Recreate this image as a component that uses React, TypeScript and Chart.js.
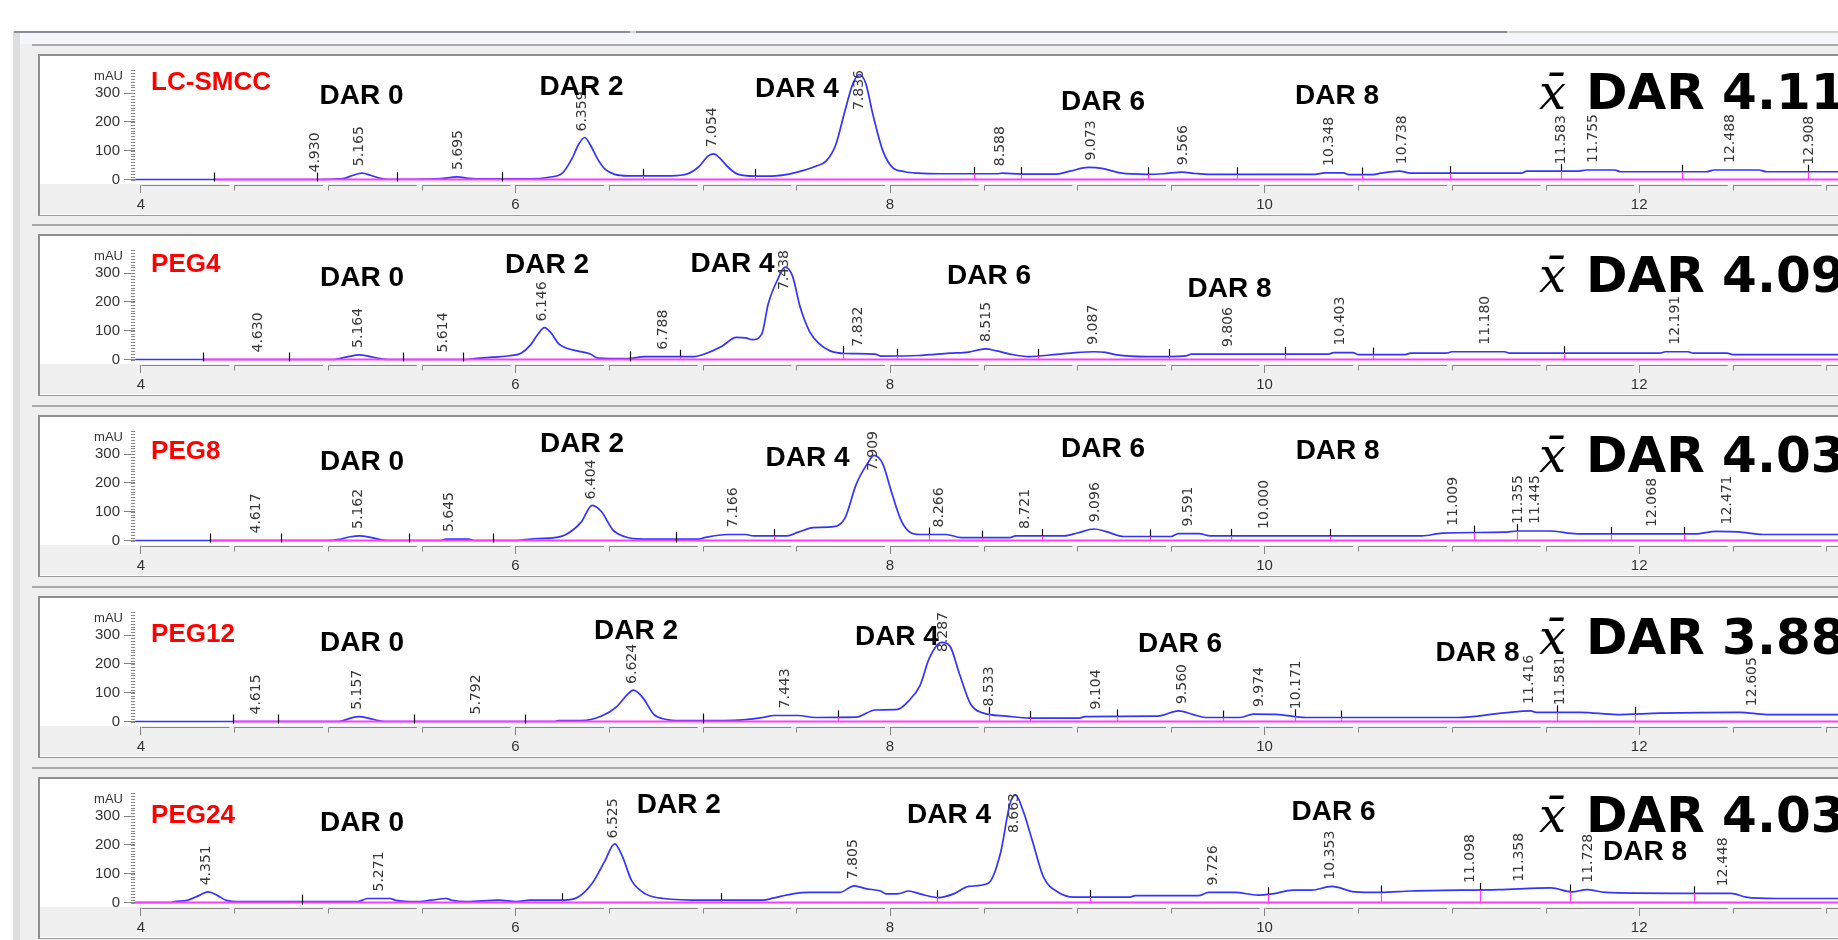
import React, { useEffect, useRef } from 'react';
import { Chart, registerables } from 'chart.js';

Chart.register(...registerables);

type Pt = [number, number];

// ---------------- data ----------------
const PANEL_NAMES = ['LC-SMCC', 'PEG4', 'PEG8', 'PEG12', 'PEG24'];
const AVG_DAR = ['4.11', '4.09', '4.03', '3.88', '4.03'];
const DAR_TEXT = ['DAR 0', 'DAR 2', 'DAR 4', 'DAR 6', 'DAR 8'];
const X_TICKS = [4, 6, 8, 10, 12];
const Y_TICKS = [0, 100, 200, 300];

const TRACE_LCSMCC: Pt[] = [
  [3.97, 0], [4.39, 0], [4.95, 0], [5.01, 1], [5.08, 3], [5.13, 14], [5.18, 22], [5.23, 14], [5.28, 4], [5.32, 1],
  [5.45, 1], [5.6, 3], [5.69, 9], [5.75, 4], [5.85, 2], [6.08, 2], [6.18, 8], [6.25, 22], [6.3, 70], [6.34, 125],
  [6.37, 146], [6.4, 120], [6.44, 70], [6.48, 35], [6.53, 18], [6.6, 13], [6.83, 13], [6.92, 20], [6.98, 45],
  [7.03, 82], [7.06, 89], [7.09, 75], [7.14, 40], [7.19, 18], [7.28, 12], [7.39, 13], [7.5, 25], [7.6, 45],
  [7.66, 65], [7.71, 120], [7.76, 240], [7.8, 330], [7.835, 365], [7.87, 335], [7.91, 222], [7.96, 103],
  [8.01, 44], [8.08, 27], [8.15, 22], [8.27, 20], [8.57, 20], [8.6, 22], [8.7, 19], [8.89, 19], [8.96, 29],
  [9.06, 42], [9.13, 39], [9.23, 23], [9.37, 18], [9.46, 20], [9.56, 26], [9.63, 21], [9.7, 18], [10.27, 18],
  [10.32, 23], [10.42, 23], [10.45, 17], [10.58, 17], [10.62, 22], [10.72, 29], [10.78, 22], [11.37, 22],
  [11.4, 29], [11.67, 29], [11.72, 33], [11.87, 33], [11.9, 27], [12.36, 27], [12.4, 33], [12.64, 33],
  [12.68, 27], [13.07, 27],
];
const TRACE_PEG4: Pt[] = [
  [3.97, 0], [4.33, 0], [5.03, 0], [5.06, 3], [5.12, 12], [5.165, 16], [5.22, 11], [5.28, 3], [5.32, 0],
  [5.72, 0], [5.78, 3], [5.88, 8], [5.97, 13], [6.03, 22], [6.08, 50], [6.12, 88], [6.155, 111], [6.19, 93],
  [6.23, 55], [6.27, 40], [6.33, 30], [6.4, 19], [6.44, 5], [6.6, 3], [6.69, 10], [6.95, 10], [7.01, 19],
  [7.1, 45], [7.18, 77], [7.23, 75], [7.265, 69], [7.315, 88], [7.35, 194], [7.4, 278], [7.44, 321],
  [7.48, 289], [7.52, 183], [7.57, 98], [7.62, 56], [7.68, 30], [7.76, 21], [7.92, 19], [7.95, 12], [8.15, 14],
  [8.32, 22], [8.42, 26], [8.51, 37], [8.57, 30], [8.64, 19], [8.74, 10], [8.89, 18], [8.99, 24], [9.09, 27],
  [9.15, 25], [9.21, 16], [9.37, 10], [9.58, 13], [9.61, 19], [10.34, 19], [10.37, 24], [10.47, 24],
  [10.5, 17], [10.75, 17], [10.78, 22], [10.97, 22], [11.0, 27], [11.28, 27], [11.31, 22], [12.11, 22],
  [12.14, 27], [12.26, 27], [12.29, 22], [12.47, 22], [12.5, 17], [13.07, 17],
];
const TRACE_PEG8: Pt[] = [
  [3.97, 0], [5.0, 0], [5.05, 3], [5.12, 13], [5.165, 16], [5.22, 12], [5.28, 3], [5.32, 0], [5.6, 0],
  [5.63, 5], [5.75, 5], [5.78, 0], [6.0, 0], [6.05, 3], [6.12, 7], [6.21, 10], [6.27, 21], [6.35, 63],
  [6.41, 122], [6.46, 100], [6.52, 37], [6.585, 13], [6.68, 5], [6.98, 5], [7.01, 10], [7.13, 21], [7.23, 21],
  [7.27, 16], [7.45, 16], [7.51, 29], [7.59, 45], [7.7, 48], [7.76, 79], [7.82, 196], [7.88, 268],
  [7.915, 296], [7.96, 268], [8.01, 164], [8.06, 69], [8.1, 32], [8.16, 21], [8.3, 21], [8.38, 10],
  [8.64, 10], [8.67, 16], [8.93, 16], [9.0, 26], [9.09, 40], [9.15, 32], [9.25, 14], [9.5, 14], [9.54, 24],
  [9.65, 24], [9.71, 16], [10.84, 16], [10.95, 26], [11.28, 29], [11.35, 33], [11.52, 33], [11.67, 23],
  [12.3, 23], [12.41, 32], [12.53, 30], [12.66, 21], [13.07, 21],
];
const TRACE_PEG12: Pt[] = [
  [3.97, 0], [5.05, 0], [5.08, 3], [5.12, 12], [5.165, 17], [5.22, 11], [5.27, 3], [5.3, 0], [6.21, 0],
  [6.23, 3], [6.35, 3], [6.46, 19], [6.54, 51], [6.6, 95], [6.63, 109], [6.68, 83], [6.74, 24], [6.8, 8],
  [6.88, 3], [7.165, 4], [7.32, 14], [7.38, 21], [7.51, 21], [7.6, 14], [7.82, 15], [7.92, 40], [8.04, 42],
  [8.1, 72], [8.16, 125], [8.21, 220], [8.275, 275], [8.32, 262], [8.37, 167], [8.43, 61], [8.495, 30],
  [8.62, 19], [8.745, 12], [9.01, 12], [9.04, 17], [9.43, 19], [9.54, 37], [9.62, 24], [9.685, 14],
  [9.87, 14], [9.94, 26], [10.06, 25], [10.22, 14], [11.03, 14], [11.28, 30], [11.42, 37], [11.45, 32],
  [11.69, 32], [11.88, 24], [12.11, 29], [12.54, 32], [12.68, 24], [13.07, 24],
];
const TRACE_PEG24: Pt[] = [
  [3.97, 0], [4.16, 0], [4.18, 3], [4.25, 8], [4.31, 24], [4.36, 37], [4.41, 24], [4.455, 8], [4.53, 3],
  [5.16, 3], [5.21, 14], [5.33, 14], [5.36, 8], [5.47, 3], [5.55, 8], [5.63, 14], [5.66, 8], [5.74, 3],
  [5.91, 8], [6.005, 3], [6.08, 8], [6.26, 8], [6.335, 19], [6.41, 67], [6.475, 141], [6.53, 204],
  [6.57, 162], [6.62, 77], [6.695, 30], [6.79, 14], [7.01, 8], [7.32, 8], [7.38, 16], [7.48, 30], [7.57, 35],
  [7.73, 35], [7.81, 58], [7.87, 48], [7.95, 40], [7.98, 30], [8.04, 30], [8.1, 40], [8.16, 30], [8.26, 17],
  [8.34, 30], [8.42, 56], [8.525, 67], [8.59, 172], [8.64, 342], [8.67, 374], [8.71, 320], [8.76, 215],
  [8.82, 88], [8.9, 35], [8.98, 19], [9.28, 19], [9.31, 24], [9.65, 24], [9.7, 35], [9.84, 35], [9.965, 26],
  [10.03, 29], [10.155, 43], [10.25, 43], [10.36, 56], [10.48, 37], [10.62, 35], [10.78, 40], [11.25, 45],
  [11.53, 51], [11.64, 37], [11.72, 45], [11.82, 35], [12.19, 32], [12.49, 32], [12.57, 19], [12.73, 14],
  [13.07, 14],
];

const RT_LCSMCC = [4.93, 5.165, 5.695, 6.359, 7.054, 7.836, 8.588, 9.073, 9.566, 10.348, 10.738, 11.583, 11.755, 12.488, 12.908];
const RT_PEG4 = [4.63, 5.164, 5.614, 6.146, 6.788, 7.438, 7.832, 8.515, 9.087, 9.806, 10.403, 11.18, 12.191];
const RT_PEG8 = [4.617, 5.162, 5.645, 6.404, 7.166, 7.909, 8.266, 8.721, 9.096, 9.591, 10.0, 11.009, 11.355, 11.445, 12.068, 12.471];
const RT_PEG12 = [4.615, 5.157, 5.792, 6.624, 7.443, 8.287, 8.533, 9.104, 9.56, 9.974, 10.171, 11.416, 11.581, 12.605];
const RT_PEG24 = [4.351, 5.271, 6.525, 7.805, 8.663, 9.726, 10.353, 11.098, 11.358, 11.728, 12.448];

const MARKS_LCSMCC = [4.39, 4.94, 5.37, 5.93, 6.68, 7.28, 8.45, 8.7, 9.38, 9.85, 10.52, 10.99, 11.58, 12.23, 12.9];
const MARKS_PEG4 = [4.33, 4.79, 5.4, 5.72, 6.61, 6.88, 7.75, 8.04, 8.79, 9.49, 10.11, 10.58, 11.6];
const MARKS_PEG8 = [4.37, 4.75, 5.43, 5.88, 6.86, 7.38, 8.21, 8.49, 8.81, 9.39, 9.82, 10.35, 11.12, 11.35, 11.85, 12.24];
const MARKS_PEG12 = [4.49, 4.73, 5.46, 6.05, 7.0, 7.72, 8.53, 8.75, 9.21, 9.78, 10.16, 10.41, 11.56, 11.98];
const MARKS_PEG24 = [4.86, 6.25, 7.1, 8.25, 9.07, 10.02, 10.62, 11.15, 11.63, 12.29];

const BASE_START = [4.39, 4.33, 4.37, 4.49, 3.97];
const BASE_END = 13.07;

const DAR_AT_LCSMCC: Pt[] = [[5.178, 298], [6.353, 327], [7.503, 321], [9.137, 278], [10.387, 298]];
const DAR_AT_PEG4: Pt[] = [[5.181, 289], [6.169, 336], [7.159, 340], [8.529, 298], [9.813, 251]];
const DAR_AT_PEG8: Pt[] = [[5.181, 279], [6.356, 343], [7.56, 295], [9.137, 324], [10.39, 317]];
const DAR_AT_PEG12: Pt[] = [[5.181, 279], [6.644, 321], [8.037, 302], [9.548, 276], [11.137, 244]];
const DAR_AT_PEG24: Pt[] = [[5.181, 283], [6.872, 346], [8.315, 311], [10.368, 321], [12.031, 181]];

const NAME_AT: Pt[] = [[4.055, 343], [4.055, 335], [4.055, 317], [4.055, 308], [4.055, 308]];
const AVG_AT: Pt[] = [[11.716, 306], [11.716, 298], [11.716, 300], [11.716, 297], [11.716, 308]];

const TRACES = [TRACE_LCSMCC, TRACE_PEG4, TRACE_PEG8, TRACE_PEG12, TRACE_PEG24];
const RTS = [RT_LCSMCC, RT_PEG4, RT_PEG8, RT_PEG12, RT_PEG24];
const MARKS = [MARKS_LCSMCC, MARKS_PEG4, MARKS_PEG8, MARKS_PEG12, MARKS_PEG24];
const DAR_AT = [DAR_AT_LCSMCC, DAR_AT_PEG4, DAR_AT_PEG8, DAR_AT_PEG12, DAR_AT_PEG24];

// ---------------- layout ----------------
const X_MIN = 3.969;
const X_MAX = 13.0614;
const Y_MIN = -19.05;
const Y_MAX = 384.1;
const ZEROS = [179, 359, 540, 721, 902];
const W = 1838;
const H = 940;
const CANVAS_LEFT = 40;
const CANVAS_W = W - CANVAS_LEFT;
const CANVAS_H = 158;

const BLUE = '#3333ff';
const MAGENTA = '#ff3cff';

function valueAt(pts: Pt[], t: number): number {
  if (t <= pts[0][0]) return pts[0][1];
  for (let i = 1; i < pts.length; i++) {
    if (t <= pts[i][0]) {
      const [x0, y0] = pts[i - 1];
      const [x1, y1] = pts[i];
      return y0 + ((y1 - y0) * (t - x0)) / (x1 - x0);
    }
  }
  return pts[pts.length - 1][1];
}

function makePlugin(idx: number) {
  const trace = TRACES[idx];
  return {
    id: 'panelDeco' + idx,
    beforeDraw(chart: any) {
      const { ctx, width, height } = chart;
      const y0 = chart.scales.y.getPixelForValue(0);
      ctx.save();
      ctx.fillStyle = '#ffffff';
      ctx.fillRect(0, 0, width, height);
      ctx.fillStyle = '#f0f0f0';
      ctx.fillRect(0, Math.round(y0 + 4), width, height);
      ctx.restore();
    },
    afterDraw(chart: any) {
      const { ctx, chartArea } = chart;
      const xs = chart.scales.x;
      const ys = chart.scales.y;
      const yz = ys.getPixelForValue(0);
      ctx.save();

      // x axis segmented line and minor ticks
      const axisY = Math.round(chartArea.bottom) + 0.5;
      ctx.strokeStyle = '#858585';
      ctx.lineWidth = 1;
      for (let k = 0; k < 20; k++) {
        const t = 4 + k * 0.5;
        if (t > X_MAX) break;
        const x = Math.round(xs.getPixelForValue(t)) + 0.5;
        const xn = xs.getPixelForValue(t + 0.5);
        ctx.beginPath();
        ctx.moveTo(x, axisY);
        ctx.lineTo(xn - 5, axisY);
        if (!X_TICKS.includes(t)) {
          ctx.moveTo(x, axisY);
          ctx.lineTo(x, axisY + 5);
        }
        ctx.stroke();
      }

      // y minor ticks
      ctx.strokeStyle = '#8a8a8a';
      const left = Math.round(chartArea.left);
      for (let v = 0; v <= 380; v += 10) {
        const y = Math.round(ys.getPixelForValue(v)) + 0.5;
        ctx.beginPath();
        ctx.moveTo(left - 4, y);
        ctx.lineTo(left, y);
        ctx.stroke();
      }

      // mAU
      ctx.fillStyle = '#333';
      ctx.font = '13px "Liberation Sans"';
      ctx.textAlign = 'right';
      ctx.textBaseline = 'middle';
      ctx.fillText('mAU', left - 12, ys.getPixelForValue(358));

      // integration marks
      for (const t of MARKS[idx]) {
        const x = Math.round(xs.getPixelForValue(t)) + 0.5;
        const yt = ys.getPixelForValue(valueAt(trace, t));
        ctx.lineWidth = 1.2;
        ctx.strokeStyle = '#111';
        ctx.beginPath();
        ctx.moveTo(x, yt - 7);
        ctx.lineTo(x, yt < yz - 2 ? yt : yz + 2);
        ctx.stroke();
        if (yt < yz - 2) {
          ctx.strokeStyle = MAGENTA;
          ctx.beginPath();
          ctx.moveTo(x, yt);
          ctx.lineTo(x, yz);
          ctx.stroke();
        }
      }

      // retention-time labels
      ctx.font = '14px "DejaVu Sans"';
      ctx.fillStyle = '#383838';
      ctx.textAlign = 'left';
      ctx.textBaseline = 'middle';
      for (const rt of RTS[idx]) {
        const label = rt.toFixed(3);
        const w = ctx.measureText(label).width;
        const v = Math.max(valueAt(trace, rt - 0.015), valueAt(trace, rt), valueAt(trace, rt + 0.015));
        let bottom = ys.getPixelForValue(v) - 7;
        const minBottom = chartArea.top + 1 + w;
        if (bottom < minBottom) bottom = minBottom;
        ctx.save();
        ctx.translate(xs.getPixelForValue(rt), bottom);
        ctx.rotate(-Math.PI / 2);
        ctx.fillText(label, 0, 0);
        ctx.restore();
      }

      // DAR labels
      ctx.font = 'bold 28px "Liberation Sans"';
      ctx.fillStyle = '#000';
      ctx.textAlign = 'center';
      ctx.textBaseline = 'alphabetic';
      DAR_AT[idx].forEach(([t, v], k) => {
        ctx.fillText(DAR_TEXT[k], xs.getPixelForValue(t), ys.getPixelForValue(v) + 10);
      });

      // panel name
      ctx.font = 'bold 26px "Liberation Sans"';
      ctx.fillStyle = '#ff0000';
      ctx.textAlign = 'left';
      ctx.fillText(PANEL_NAMES[idx], xs.getPixelForValue(NAME_AT[idx][0]), ys.getPixelForValue(NAME_AT[idx][1]) + 9.3);

      // average DAR
      const ax = xs.getPixelForValue(AVG_AT[idx][0]);
      const ay = ys.getPixelForValue(AVG_AT[idx][1]) + 18;
      ctx.fillStyle = '#000';
      ctx.font = 'bold 50px "DejaVu Sans"';
      ctx.textAlign = 'left';
      ctx.fillText('DAR ' + AVG_DAR[idx], ax, ay);
      ctx.font = 'italic 48px "DejaVu Serif"';
      ctx.textAlign = 'right';
      ctx.fillText('x\u0304', ax - 20, ay);

      ctx.restore();
    },
  };
}

function Panel({ idx }: { idx: number }) {
  const ref = useRef<HTMLCanvasElement>(null);
  useEffect(() => {
    const canvas = ref.current;
    if (!canvas) return;
    const tickFont = { family: 'Liberation Sans', size: 15 };
    const chart = new Chart(canvas, {
      type: 'line',
      data: {
        datasets: [
          {
            data: [
              { x: BASE_START[idx], y: 0 },
              { x: BASE_END, y: 0 },
            ],
            borderColor: MAGENTA,
            borderWidth: 2,
            pointRadius: 0,
            order: 0,
          },
          {
            data: TRACES[idx].map(([x, y]) => ({ x, y })),
            borderColor: BLUE,
            borderWidth: 1.7,
            pointRadius: 0,
            cubicInterpolationMode: 'monotone',
            order: 1,
          },
        ],
      },
      options: {
        animation: false,
        responsive: false,
        maintainAspectRatio: false,
        events: [],
        layout: { padding: { top: 2, left: 0, right: 0, bottom: 0 } },
        plugins: { legend: { display: false }, tooltip: { enabled: false } },
        scales: {
          x: {
            type: 'linear',
            min: X_MIN,
            max: X_MAX,
            afterBuildTicks: (s: any) => {
              s.ticks = X_TICKS.map((value) => ({ value }));
            },
            afterFit: (s: any) => {
              s.height = 29;
            },
            border: { display: false },
            grid: { display: true, drawOnChartArea: false, drawTicks: true, tickLength: 8, color: '#858585' },
            ticks: {
              autoSkip: false,
              maxRotation: 0,
              padding: 3,
              color: '#333',
              font: tickFont,
            },
          },
          y: {
            type: 'linear',
            min: Y_MIN,
            max: Y_MAX,
            afterBuildTicks: (s: any) => {
              s.ticks = Y_TICKS.map((value) => ({ value }));
            },
            afterFit: (s: any) => {
              s.width = 95;
            },
            border: { display: false },
            grid: { display: true, drawOnChartArea: false, drawTicks: true, tickLength: 11, color: '#858585' },
            ticks: {
              autoSkip: false,
              padding: 4,
              color: '#333',
              font: tickFont,
            },
          },
        },
      } as any,
      plugins: [makePlugin(idx)],
    });
    return () => chart.destroy();
  }, [idx]);

  const zero = ZEROS[idx];
  const frameTop = zero - 125;
  return (
    <>
      <div style={{ position: 'absolute', left: 32, top: zero - 135, width: W, height: 2, background: '#a9a9a9' }} />
      <div
        style={{
          position: 'absolute',
          left: 38,
          top: frameTop,
          width: W,
          height: 159,
          background: '#fff',
          borderLeft: '2px solid #8f8f8f',
          borderTop: '2px solid #8f8f8f',
          borderBottom: '1px solid #9a9a9a',
        }}
      />
      <canvas
        ref={ref}
        width={CANVAS_W}
        height={CANVAS_H}
        style={{ position: 'absolute', left: CANVAS_LEFT, top: frameTop + 2, width: CANVAS_W, height: CANVAS_H }}
      />
    </>
  );
}

export default function App() {
  return (
    <div
      style={{
        position: 'fixed',
        left: 0,
        top: 0,
        width: W,
        height: H,
        overflow: 'hidden',
        background: '#ffffff',
      }}
    >
      <div style={{ position: 'absolute', left: 20, top: 33, width: W, height: H, background: '#efefef' }} />
      <div style={{ position: 'absolute', left: 20, top: 33, width: W, height: 11, background: '#f4f6fa' }} />
      <div style={{ position: 'absolute', left: 13, top: 31, width: 7, height: H, background: '#dedede' }} />
      <div style={{ position: 'absolute', left: 14, top: 31, width: 1493, height: 2, background: '#8c8c98' }} />
      <div style={{ position: 'absolute', left: 630, top: 31, width: 6, height: 2, background: '#d6d6d6' }} />
      <div style={{ position: 'absolute', left: 1507, top: 31, width: W, height: 2, background: '#cfcfcf' }} />
      {PANEL_NAMES.map((_, i) => (
        <Panel key={i} idx={i} />
      ))}
    </div>
  );
}
